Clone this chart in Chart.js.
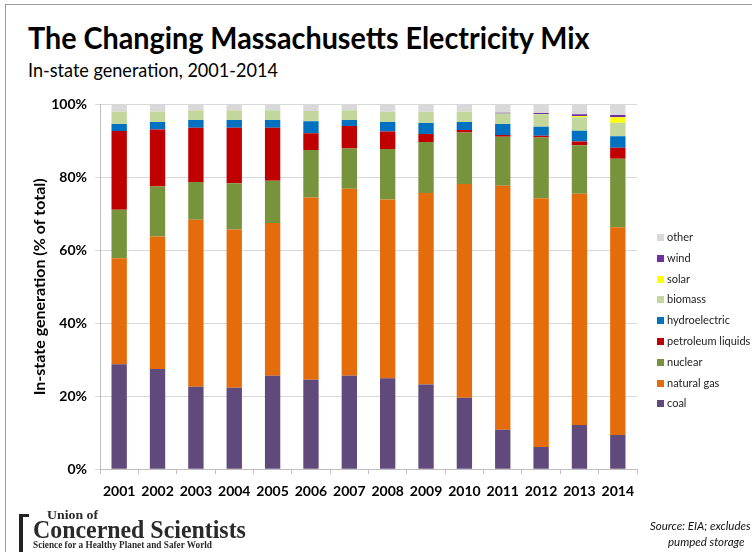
<!DOCTYPE html>
<html>
<head>
<meta charset="utf-8">
<script src="https://cdn.jsdelivr.net/npm/chart.js@4.4.1/dist/chart.umd.min.js"></script>
<style>
  html, body { margin: 0; padding: 0; background: #fff; }
  body { width: 752px; height: 552px; position: relative; overflow: hidden; font-family: Lato, sans-serif; }
  .frame { position: absolute; left: 5px; top: 4px; width: 800px; height: 600px; border: 1px solid #9a9a9a; }
  .fit { position: absolute; white-space: nowrap; transform-origin: 0 0; }
  #title { left: 28px; top: 18px; font-size: 31px; font-weight: 700; color: #000; }
  #subtitle { left: 28px; top: 58px; font-size: 19px; color: #000; }
  #wrap { position: absolute; left: 0; top: 88px; width: 752px; height: 462px; }
  #mix { display: block; }
  #legend { position: absolute; left: 657px; top: 229px; font-size: 11px; color: #222; }
  #legend div { height: 20.8px; line-height: 16px; white-space: nowrap; }
  #legend span { display: inline-block; width: 7px; height: 7px; margin-right: 3px; vertical-align: 0px; }
  .bracket { position: absolute; left: 19px; top: 514px; width: 6px; height: 50px; border-left: 4px solid #222; border-top: 3px solid #222; }
  .logo { font-family: "Liberation Serif", serif; font-weight: 700; color: #2a2a2a; }
  .src { position: absolute; font-style: italic; font-size: 11.5px; color: #111; white-space: nowrap; }
</style>
</head>
<body>
<div class="frame"></div>
<div id="title" class="fit" data-w="562">The Changing Massachusetts Electricity Mix</div>
<div id="subtitle" class="fit" data-w="250">In-state generation, 2001-2014</div>
<div id="wrap"><canvas id="mix"></canvas></div>
<div id="legend"></div>
<div class="bracket"></div>
<div class="logo fit" data-w="51" style="left:47px;top:507px;font-size:13px;">Union of</div>
<div class="logo fit" data-w="213" style="left:33px;top:516px;font-size:25px;">Concerned Scientists</div>
<div class="logo fit" data-w="179" style="left:33px;top:540px;font-size:9.5px;">Science for a Healthy Planet and Safer World</div>
<div class="src" style="left:650px;top:519px;">Source: EIA; excludes</div>
<div class="src" style="left:668px;top:535px;">pumped storage</div>
<script>
const years = ['2001', '2002', '2003', '2004', '2005', '2006', '2007', '2008', '2009', '2010', '2011', '2012', '2013', '2014']

// shares of in-state generation, percent
const coal = [28.8, 27.5, 22.6, 22.3, 25.6, 24.5, 25.6, 24.9, 23.2, 19.6, 10.8, 6.1, 12.1, 9.4]
const naturalGas = [29.0, 36.3, 45.8, 43.4, 41.9, 50.0, 51.3, 49.0, 52.5, 58.6, 66.9, 68.2, 63.4, 56.9]
const nuclear = [13.3, 13.7, 10.3, 12.7, 11.6, 13.0, 11.0, 13.9, 14.0, 14.1, 13.4, 16.6, 13.3, 18.8]
const petroleum = [21.6, 15.6, 14.9, 15.2, 14.5, 4.6, 6.2, 4.8, 2.2, 0.7, 0.5, 0.5, 1.0, 3.0]
const hydro = [1.9, 2.1, 2.1, 2.1, 2.1, 3.3, 1.6, 2.6, 3.0, 2.2, 3.0, 2.5, 3.0, 3.2]
const biomass = [3.4, 2.8, 2.7, 2.7, 2.7, 2.8, 2.7, 2.8, 3.1, 2.8, 2.9, 3.4, 3.7, 3.7]
const solar = [0, 0, 0, 0, 0, 0, 0, 0, 0, 0, 0, 0.05, 0.3, 1.5]
const wind = [0, 0, 0, 0, 0, 0, 0, 0, 0, 0, 0.2, 0.3, 0.5, 0.6]
const other = [2.0, 2.0, 1.6, 1.6, 1.6, 1.8, 1.6, 2.0, 2.0, 2.0, 2.3, 2.35, 2.7, 2.9]

const yTicks = [0, 20, 40, 60, 80, 100]

const series = [
    { label: 'coal', data: coal, color: '#604a7b' },
    { label: 'natural gas', data: naturalGas, color: '#e46c0a' },
    { label: 'nuclear', data: nuclear, color: '#77933c' },
    { label: 'petroleum liquids', data: petroleum, color: '#c00000' },
    { label: 'hydroelectric', data: hydro, color: '#0070c0' },
    { label: 'biomass', data: biomass, color: '#c3d69b' },
    { label: 'solar', data: solar, color: '#ffff00' },
    { label: 'wind', data: wind, color: '#7030a0' },
    { label: 'other', data: other, color: '#d9d9d9' },
]

const tickFont = { family: 'Lato', size: 14, weight: 'bold' }

const mixConfig = {
    type: 'bar',
    data: {
        labels: years,
        datasets: series.map(s => ({
            label: s.label,
            data: s.data,
            backgroundColor: s.color,
            barPercentage: 0.4,
            categoryPercentage: 1,
        })),
    },
    options: {
        responsive: false,
        animation: false,
        layout: { padding: { left: 5, right: 115, top: 4, bottom: 41 } },
        plugins: {
            legend: { display: false },
            tooltip: { enabled: false },
        },
        scales: {
            x: {
                stacked: true,
                grid: { drawOnChartArea: false, tickLength: 5, color: '#bfbfbf' },
                border: { color: '#bfbfbf' },
                ticks: { color: '#000', font: tickFont, padding: 9, maxRotation: 0 },
            },
            y: {
                stacked: true,
                min: 0,
                max: 100,
                afterBuildTicks: axis => { axis.ticks = yTicks.map(v => ({ value: v })) },
                afterFit: axis => { axis.width = 95 },
                grid: { color: '#d9d9d9', tickLength: 5 },
                border: { color: '#bfbfbf' },
                ticks: { color: '#000', font: tickFont, padding: 8, callback: v => v + '%' },
                title: {
                    display: true,
                    text: 'In-state generation (% of total)',
                    color: '#000',
                    font: { family: 'Lato', size: 16, weight: 'bold' },
                    padding: { top: 25, bottom: 0 },
                },
            },
        },
    },
}

const canvas = document.getElementById('mix')
canvas.width = 752
canvas.height = 462
window.mixChart = new Chart(canvas, mixConfig)

// legend, listed top-down as in the original (reverse stacking order)
const legendEl = document.getElementById('legend')
series.slice().reverse().forEach(s => {
    const row = document.createElement('div')
    row.innerHTML = '<span style="background:' + s.color + '"></span>' + s.label
    legendEl.appendChild(row)
})

// squeeze the Calibri-like headings and logo lines to their original widths
document.querySelectorAll('.fit').forEach(el => {
    const k = Number(el.dataset.w) / el.offsetWidth
    el.style.transform = 'scaleX(' + k.toFixed(3) + ')'
})
</script>
</body>
</html>
